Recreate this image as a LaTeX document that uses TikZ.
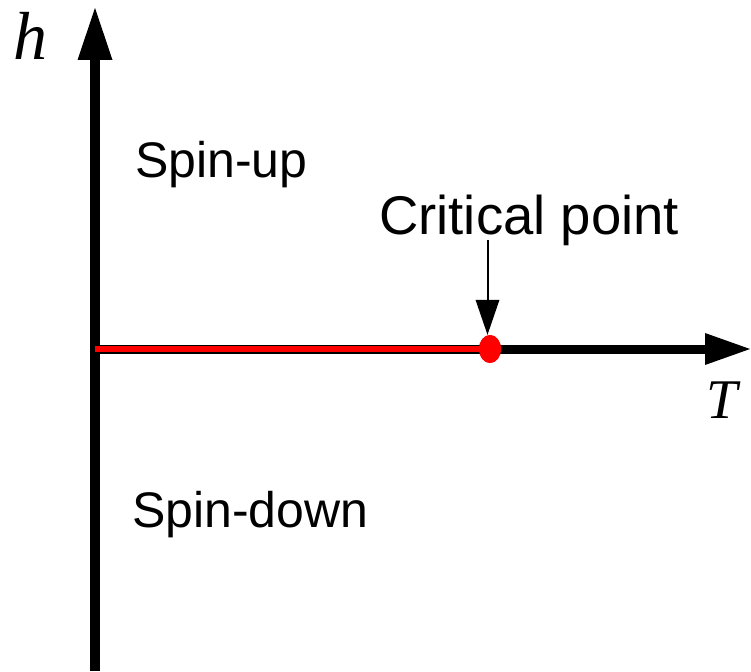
\documentclass[tikz,border=0pt]{standalone}
\usepackage{fontspec}
\setmainfont{Liberation Sans}
\newfontfamily\serifit{Liberation Serif}[UprightFont=* Italic]
\usetikzlibrary{arrows.meta,shapes.geometric}
\tikzset{
  axis/.style={line width=#1, black},
  lbl/.style={inner sep=0pt, anchor=base west, font=\fontsize{50}{60}\selectfont},
  varlbl/.style={inner sep=0pt, anchor=base west},
}
\begin{document}
\begin{tikzpicture}[x=1pt,y=-1pt]
\useasboundingbox (0,0) rectangle (751,671);
\coordinate (origin) at (95,349);
\coordinate (hbot) at (95,671);
\coordinate (htop) at (95,8);
\coordinate (tend) at (750,349);
\node[ellipse, fill=red, minimum width=22pt, minimum height=28pt, inner sep=0pt] (cp) at (490,349) {};
% axes
\draw[axis=10pt, -{Triangle[length=52pt,width=35pt,line width=0pt]}] (hbot) -- (htop);
\draw[axis=9pt, -{Triangle[length=45pt,width=32pt,line width=0pt]}] (origin) -- (tend);
\draw[red, line width=6.5pt] (origin) -- (cp.center);
\node[ellipse, fill=red, minimum width=22pt, minimum height=28pt, inner sep=0pt] at (cp.center) {};
% labels
\node[varlbl, font=\fontsize{68}{80}\serifit] (h) at (13,60) {h};
\node[varlbl, font=\fontsize{56}{66}\serifit] (T) at (706,418) {T};
\node[lbl] (up) at (135,177) {Spin-up};
\node[lbl] (down) at (132,527) {Spin-down};
\node[lbl, font=\fontsize{54.5}{64}\selectfont] (crit) at (379,234) {Critical point};
\coordinate (astart) at (487.5,240);
\draw[line width=2pt, -{Triangle[length=35pt,width=24pt,line width=0pt]}] (astart) -- (cp.north -| astart);
\end{tikzpicture}
\end{document}
